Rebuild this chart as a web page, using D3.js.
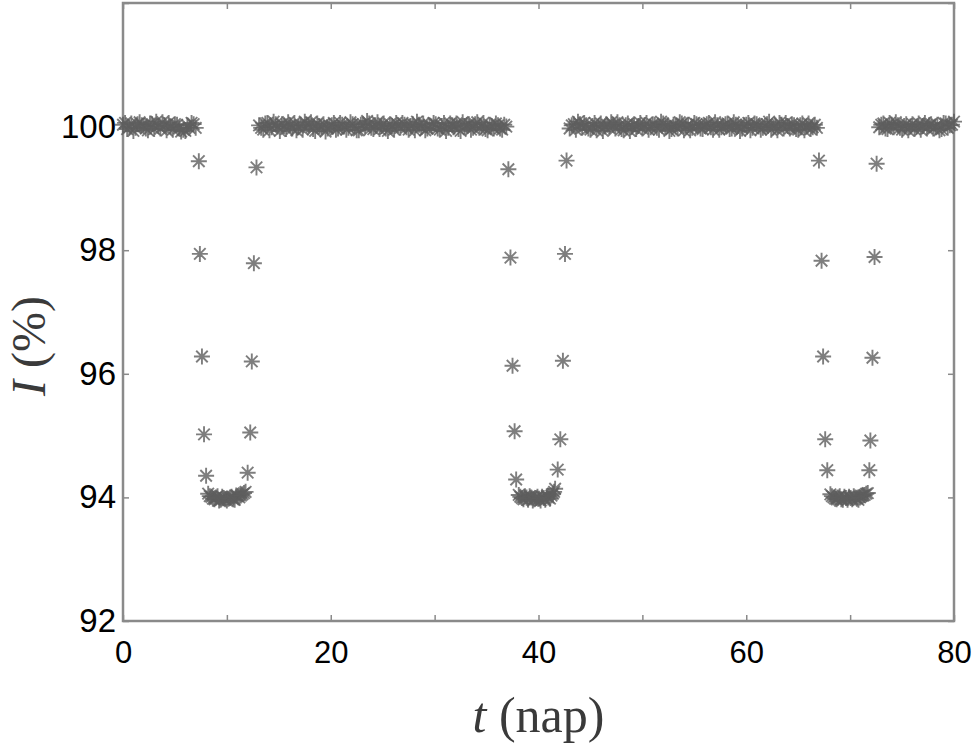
<!DOCTYPE html>
<html>
<head>
<meta charset="utf-8">
<script src="https://cdn.jsdelivr.net/npm/d3@7"></script>
<style>
  body { margin: 0; background: #fff; }
  .tick text { font-family: "Liberation Sans", Arial, sans-serif; fill: #000; }
</style>
</head>
<body>
<div class="chart"></div>
<script>

// ---- data: [t (days), I (%)] ----
const band1 = [[0.0,100.03],[0.4,99.96],[0.8,100.05],[1.2,99.98],[1.6,100.07],[2.0,100.01],[2.4,99.94],[2.8,100.04],
  [3.2,100.08],[3.6,99.97],[4.0,100.02],[4.4,100.06],[4.8,99.95],[5.2,100.03],[5.6,99.92],[6.0,99.93],[6.4,99.98],
  [6.8,100.04],[7.0,99.98]]
const band1Mid = [[0.2,100.06],[0.6,99.99],[1.0,99.93],[1.4,100.04],[1.8,100.02],[2.2,99.97],[2.6,100.05],[3.0,99.96],
  [3.4,100.01],[3.8,100.07],[4.2,99.94],[4.6,100.00],[5.0,100.04],[5.4,99.97],[5.8,99.95],[6.2,100.02],[6.6,100.06]]

const dip1 = [[7.3,99.44],[7.4,97.94],[7.6,96.28],[7.8,95.02],[8.0,94.35],
  [8.2,94.06],[8.5,94.01],[8.8,93.97],[9.1,94.02],[9.4,93.96],[9.7,93.99],[10.0,93.95],[10.3,94.00],[10.6,93.97],
  [10.9,94.03],[11.2,94.00],[11.5,94.05],[11.8,94.09],
  [12.0,94.40],[12.25,95.05],[12.4,96.20],[12.6,97.79],[12.85,99.34]]
const dip1Mid = [[8.35,94.02],[8.65,93.98],[8.95,94.00],[9.25,93.95],[9.55,94.01],[9.85,93.97],[10.15,93.98],
  [10.45,94.01],[10.75,93.96],[11.05,94.02],[11.35,94.03],[11.65,94.07]]

const band2 = [[13.1,100.02],[13.5,99.95],[13.9,100.06],[14.3,99.99],[14.7,100.04],[15.1,99.93],[15.5,100.01],
  [15.9,100.07],[16.3,99.97],[16.7,99.94],[17.1,100.03],[17.5,100.08],[17.9,100.02],[18.3,99.96],[18.7,100.05],
  [19.1,99.99],[19.5,99.92],[19.9,100.01],[20.3,100.06],[20.7,99.97],[21.1,100.03],[21.5,99.95],[21.9,100.07],
  [22.3,100.00],[22.7,99.94],[23.1,100.04],[23.5,100.09],[23.9,99.98],[24.3,100.02],[24.7,99.96],[25.1,100.05],
  [25.5,99.93],[25.9,100.01],[26.3,100.06],[26.7,99.98],[27.1,100.03],[27.5,99.95],[27.9,100.04],[28.3,100.08],
  [28.7,99.99],[29.1,99.94],[29.5,100.02],[29.9,100.06],[30.3,99.97],[30.7,100.01],[31.1,99.93],[31.5,100.05],
  [31.9,100.00],[32.3,99.96],[32.7,100.07],[33.1,100.02],[33.5,99.95],[33.9,100.04],[34.3,99.98],[34.7,100.06],
  [35.1,99.94],[35.5,100.01],[35.9,100.05],[36.3,99.97],[36.7,100.03],[36.9,100.00]]
const band2Mid = [[13.3,99.98],[13.7,100.05],[14.1,99.94],[14.5,100.08],[14.9,100.00],[15.3,100.04],[15.7,99.96],
  [16.1,100.02],[16.5,100.06],[16.9,99.99],[17.3,99.95],[17.7,100.03],[18.1,100.07],[18.5,99.93],[18.9,100.01],
  [19.3,100.04],[19.7,99.97],[20.1,100.02],[20.5,99.95],[20.9,100.06],[21.3,100.00],[21.7,99.98],[22.1,100.04],
  [22.5,99.94],[22.9,100.03],[23.3,99.99],[23.7,100.05],[24.1,99.96],[24.5,100.07],[24.9,100.01],[25.3,99.97],
  [25.7,100.04],[26.1,99.95],[26.5,100.02],[26.9,100.06],[27.3,99.99],[27.7,100.01],[28.1,99.94],[28.5,100.03],
  [28.9,100.05],[29.3,99.97],[29.7,100.00],[30.1,100.04],[30.5,99.95],[30.9,100.06],[31.3,99.98],[31.7,100.02],
  [32.1,100.05],[32.5,99.93],[32.9,100.01],[33.3,100.04],[33.7,99.98],[34.1,100.07],[34.5,100.00],[34.9,99.96],
  [35.3,100.03],[35.7,99.97],[36.1,100.02],[36.5,99.95]]

const dip2 = [[37.1,99.31],[37.3,97.88],[37.5,96.13],[37.7,95.07],[37.85,94.29],
  [38.1,94.04],[38.4,93.99],[38.7,94.02],[39.0,93.96],[39.3,94.00],[39.6,93.97],[39.9,94.01],[40.2,93.95],
  [40.5,93.99],[40.8,94.02],[41.1,93.98],[41.4,94.06],[41.6,94.14],
  [41.85,94.45],[42.1,94.94],[42.35,96.21],[42.55,97.94],[42.7,99.45]]
const dip2Mid = [[38.25,94.01],[38.55,93.97],[38.85,94.00],[39.15,94.02],[39.45,93.95],[39.75,93.99],[40.05,93.98],
  [40.35,94.01],[40.65,93.96],[40.95,94.00],[41.25,94.03],[41.5,94.09]]

const band3 = [[43.0,99.97],[43.4,100.04],[43.8,100.08],[44.2,99.98],[44.6,100.02],[45.0,99.95],[45.4,100.06],
  [45.8,100.01],[46.2,99.93],[46.6,100.03],[47.0,100.07],[47.4,99.97],[47.8,100.02],[48.2,99.94],[48.6,100.05],
  [49.0,100.00],[49.4,99.96],[49.8,100.06],[50.2,100.02],[50.6,99.95],[51.0,100.04],[51.4,99.98],[51.8,100.08],
  [52.2,100.01],[52.6,99.93],[53.0,100.03],[53.4,99.97],[53.8,100.05],[54.2,100.00],[54.6,99.94],[55.0,100.06],
  [55.4,100.02],[55.8,99.96],[56.2,100.04],[56.6,99.99],[57.0,100.07],[57.4,99.95],[57.8,100.01],[58.2,100.05],
  [58.6,99.97],[59.0,100.03],[59.4,99.93],[59.8,100.02],[60.2,100.06],[60.6,99.98],[61.0,100.04],[61.4,99.95],
  [61.8,100.01],[62.2,100.08],[62.6,99.99],[63.0,99.94],[63.4,100.03],[63.8,100.06],[64.2,99.97],[64.6,100.02],
  [65.0,99.95],[65.4,100.05],[65.8,100.00],[66.2,99.96],[66.6,100.03],[66.8,99.98]]
const band3Mid = [[43.2,100.02],[43.6,99.95],[44.0,100.04],[44.4,100.06],[44.8,99.97],[45.2,100.01],[45.6,99.94],
  [46.0,100.05],[46.4,100.00],[46.8,99.98],[47.2,100.03],[47.6,100.07],[48.0,99.96],[48.4,100.02],[48.8,99.93],
  [49.2,100.04],[49.6,100.01],[50.0,99.97],[50.4,100.06],[50.8,99.99],[51.2,100.03],[51.6,99.95],[52.0,100.05],
  [52.4,100.02],[52.8,99.96],[53.2,100.00],[53.6,100.07],[54.0,99.94],[54.4,100.03],[54.8,99.98],[55.2,100.04],
  [55.6,99.97],[56.0,100.01],[56.4,100.06],[56.8,99.95],[57.2,100.02],[57.6,99.99],[58.0,100.04],[58.4,99.96],
  [58.8,100.07],[59.2,100.01],[59.6,99.97],[60.0,100.03],[60.4,99.94],[60.8,100.05],[61.2,100.00],[61.6,99.98],
  [62.0,100.04],[62.4,99.95],[62.8,100.02],[63.2,100.06],[63.6,99.97],[64.0,100.01],[64.4,100.04],[64.8,99.96],
  [65.2,100.02],[65.6,99.94],[66.0,100.05],[66.4,99.99]]

const dip3 = [[67.0,99.45],[67.25,97.83],[67.4,96.28],[67.6,94.94],[67.8,94.44],
  [68.1,94.05],[68.4,94.00],[68.7,93.97],[69.0,94.02],[69.3,93.96],[69.6,93.99],[69.9,94.01],[70.2,93.97],
  [70.5,94.00],[70.8,93.96],[71.1,94.02],[71.4,94.04],[71.7,94.07],
  [71.85,94.44],[71.95,94.92],[72.15,96.26],[72.35,97.89],[72.55,99.40]]
const dip3Mid = [[68.25,94.02],[68.55,93.98],[68.85,94.00],[69.15,93.97],[69.45,94.01],[69.75,93.96],[70.05,93.99],
  [70.35,94.02],[70.65,93.98],[70.95,94.00],[71.25,94.03],[71.55,94.06]]

const band4 = [[72.8,99.99],[73.2,100.05],[73.6,99.96],[74.0,100.03],[74.4,100.07],[74.8,99.98],[75.2,100.01],
  [75.6,99.94],[76.0,100.04],[76.4,100.00],[76.8,99.95],[77.2,100.06],[77.6,100.02],[78.0,99.97],[78.4,100.03],
  [78.8,99.96],[79.2,100.05],[79.6,100.02],[80.0,100.08]]
const band4Mid = [[73.0,100.03],[73.4,99.97],[73.8,100.06],[74.2,99.99],[74.6,100.02],[75.0,99.95],[75.4,100.04],
  [75.8,100.00],[76.2,99.96],[76.6,100.05],[77.0,100.01],[77.4,99.97],[77.8,100.04],[78.2,100.00],[78.6,99.94],
  [79.0,100.06],[79.4,99.98],[79.8,100.03]]

const xTicks = [0, 10, 20, 30, 40, 50, 60, 70, 80]
const xLabels = [0, 20, 40, 60, 80]
const yTicks = [92, 94, 96, 98, 100, 102]
const yLabels = [92, 94, 96, 98, 100]

const points = [].concat(band1, band1Mid, dip1, dip1Mid, band2, band2Mid, dip2, dip2Mid,
  band3, band3Mid, dip3, dip3Mid, band4, band4Mid)

// ---- layout ----
const W = 974, H = 747
const margin = ({top: 3, right: 20, bottom: 126, left: 123})
const width = W - margin.left - margin.right,
  height = H - margin.top - margin.bottom

const svg = d3.select(".chart").append("svg")
  .attr("width", W)
  .attr("height", H)
  .append("g")
  .attr("transform", "translate(" + margin.left + "," + margin.top + ")")

const xScale = d3.scaleLinear().domain([0, 80]).range([0, width])
const yScale = d3.scaleLinear().domain([92, 102]).range([height, 0])

const axisColor = "#8a8a8a"
const fmtX = d => xLabels.includes(d) ? d : ""
const fmtY = d => yLabels.includes(d) ? d : ""

function styleAxis(g) {
  g.select(".domain").remove()
  g.selectAll(".tick line").attr("stroke", axisColor).attr("stroke-width", 1.5)
}

svg.append("g")
  .attr("transform", `translate(0, ${height})`)
  .call(d3.axisBottom(xScale).tickValues(xTicks).tickFormat(fmtX).tickSize(-6).tickPadding(20))
  .call(styleAxis)
  .selectAll("text").attr("font-size", 31)

svg.append("g")
  .call(d3.axisTop(xScale).tickValues(xTicks).tickFormat("").tickSize(-6))
  .call(styleAxis)

svg.append("g")
  .call(d3.axisLeft(yScale).tickValues(yTicks).tickFormat(fmtY).tickSize(-6).tickPadding(7))
  .call(styleAxis)
  .selectAll("text").attr("font-size", 33)

svg.append("g")
  .attr("transform", `translate(${width}, 0)`)
  .call(d3.axisRight(yScale).tickValues(yTicks).tickFormat("").tickSize(-6))
  .call(styleAxis)

svg.append("rect")
  .attr("x", 0).attr("y", 0)
  .attr("width", width).attr("height", height)
  .attr("fill", "none")
  .attr("stroke", axisColor)
  .attr("stroke-width", 2.5)

// asterisk marker: + and x combined
const r = 8, rd = r * 0.72
const star = `M${-r},0L${r},0M0,${-r}L0,${r}M${-rd},${-rd}L${rd},${rd}M${-rd},${rd}L${rd},${-rd}`

svg.append("g")
  .selectAll("path")
  .data(points)
  .join("path")
  .attr("d", star)
  .attr("transform", d => `translate(${xScale(d[0])},${yScale(d[1])})`)
  .attr("fill", "none")
  .attr("stroke", "#5e5e5e")
  .attr("stroke-width", 1.9)
  .attr("stroke-opacity", 0.8)

// axis titles
svg.append("text")
  .attr("x", xScale(40))
  .attr("y", 732 - margin.top)
  .attr("text-anchor", "middle")
  .attr("font-family", "'Liberation Serif', 'Times New Roman', serif")
  .attr("font-size", 50)
  .attr("fill", "#3a3a3a")
  .html('<tspan font-style="italic">t</tspan> (nap)')

svg.append("text")
  .attr("transform", `translate(${45 - margin.left}, ${346 - margin.top}) rotate(-90)`)
  .attr("text-anchor", "middle")
  .attr("font-family", "'Liberation Serif', 'Times New Roman', serif")
  .attr("font-size", 48)
  .attr("fill", "#3a3a3a")
  .html('<tspan font-style="italic">I</tspan> (%)')

</script>
</body>
</html>
